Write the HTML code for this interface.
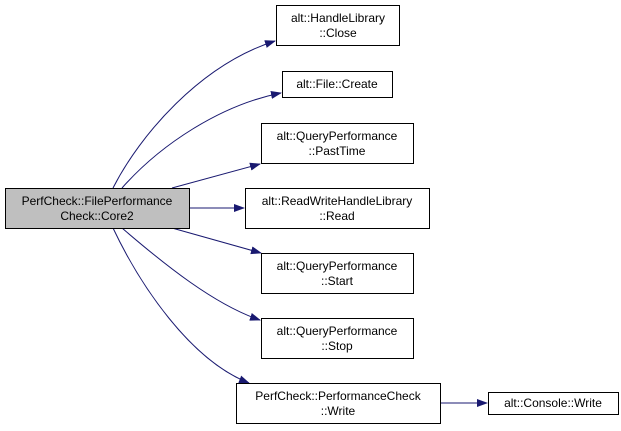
<!DOCTYPE html>
<html><head><style>
html,body{margin:0;padding:0;background:#fff;}
svg{display:block;}
text{font-family:"Liberation Sans",Arial,sans-serif;font-size:12px;fill:#000;}
</style></head><body>
<svg width="621" height="431" viewBox="0 0 621 431" xmlns="http://www.w3.org/2000/svg">
<defs>
<marker id="a" markerWidth="11" markerHeight="8" refX="10" refY="4" orient="auto" markerUnits="userSpaceOnUse">
<polygon points="0,0 11,4 0,8" fill="#191970"/>
</marker>
</defs>
<g fill="none" stroke="#191970" stroke-width="1">
<path d="M113,188 C140,135 200,65 275,41" marker-end="url(#a)"/>
<path d="M122,188 C160,145 220,105 281,93" marker-end="url(#a)"/>
<path d="M172,188 L260,164" marker-end="url(#a)"/>
<path d="M189,208 L244,208" marker-end="url(#a)"/>
<path d="M172,228 L261,253" marker-end="url(#a)"/>
<path d="M122,228 C165,265 215,305 260,320" marker-end="url(#a)"/>
<path d="M113,228 C140,285 190,360 249,383" marker-end="url(#a)"/>
<path d="M440,403 L487,403" marker-end="url(#a)"/>
</g>
<g stroke="#000" stroke-width="1">
<rect x="5.5" y="188.5" width="184" height="40" fill="#bfbfbf"/>
<rect x="276.5" y="5.5" width="123" height="40" fill="#fff"/>
<rect x="282.5" y="71.5" width="110" height="26" fill="#fff"/>
<rect x="261.5" y="123.5" width="152" height="40" fill="#fff"/>
<rect x="245.5" y="188.5" width="184" height="40" fill="#fff"/>
<rect x="261.5" y="253.5" width="152" height="40" fill="#fff"/>
<rect x="261.5" y="318.5" width="152" height="40" fill="#fff"/>
<rect x="236.5" y="383.5" width="204" height="40" fill="#fff"/>
<rect x="488.5" y="392.5" width="130" height="22" fill="#fff"/>
</g>
<g text-anchor="middle">
<text x="97" y="205">PerfCheck::FilePerformance</text>
<text x="97" y="220">Check::Core2</text>
<text x="338" y="22">alt::HandleLibrary</text>
<text x="338" y="37">::Close</text>
<text x="337" y="88">alt::File::Create</text>
<text x="337" y="140">alt::QueryPerformance</text>
<text x="337" y="155">::PastTime</text>
<text x="337" y="205">alt::ReadWriteHandleLibrary</text>
<text x="337" y="220">::Read</text>
<text x="337" y="270">alt::QueryPerformance</text>
<text x="337" y="285">::Start</text>
<text x="337" y="335">alt::QueryPerformance</text>
<text x="337" y="350">::Stop</text>
<text x="338" y="400">PerfCheck::PerformanceCheck</text>
<text x="338" y="415">::Write</text>
<text x="553" y="407">alt::Console::Write</text>
</g>
</svg>
</body></html>
